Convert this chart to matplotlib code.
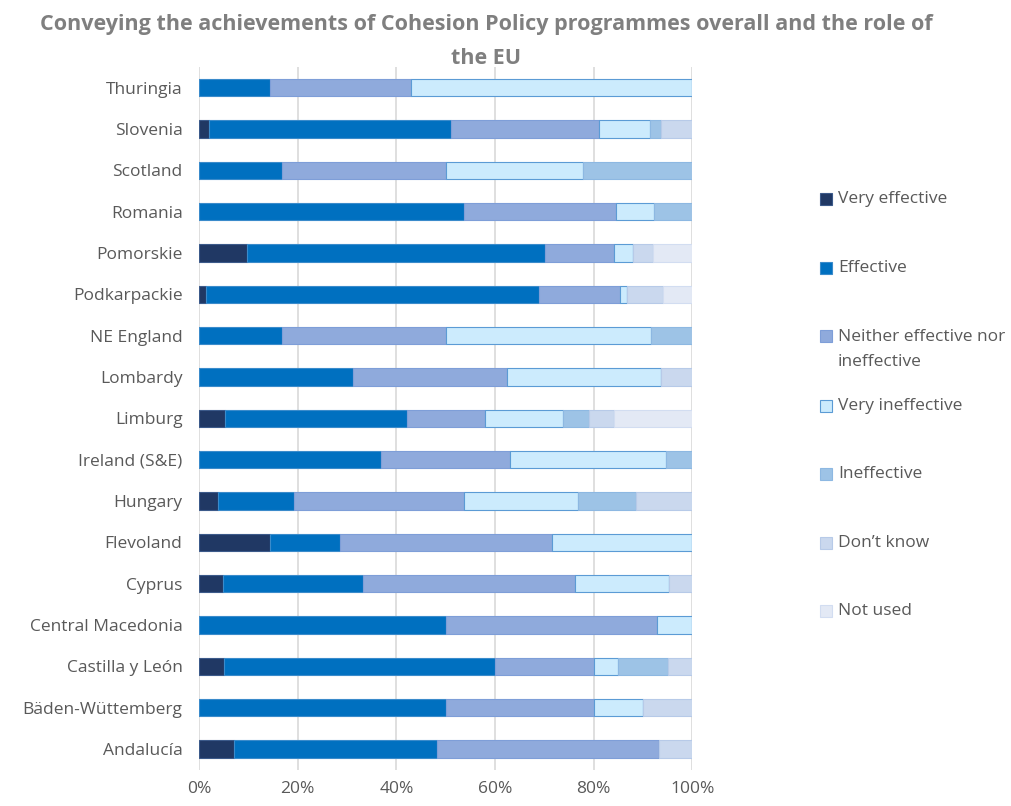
import matplotlib
matplotlib.use("Agg")
import matplotlib.pyplot as plt
from matplotlib.patches import Rectangle
import numpy as np

# regions, top to bottom as shown
regions = ["Thuringia", "Slovenia", "Scotland", "Romania", "Pomorskie", "Podkarpackie",
           "NE England", "Lombardy", "Limburg", "Ireland (S&E)", "Hungary", "Flevoland",
           "Cyprus", "Central Macedonia", "Castilla y León", "Bäden-Wüttemberg", "Andalucía"]

# shares in %, one list per answer
very_effective = [0, 1.9, 0, 0, 9.7, 1.3, 0, 0, 5.3, 0, 3.8, 14.3, 4.8, 0, 5.0, 0, 7.0]
effective = [14.3, 49.1, 16.7, 53.8, 60.4, 67.7, 16.7, 31.25, 36.8, 36.8, 15.4, 14.3, 28.5, 50.0, 55.0, 50.0, 41.2]
neither = [28.6, 30.0, 33.3, 30.8, 14.1, 16.3, 33.3, 31.25, 15.8, 26.3, 34.6, 42.9, 42.9, 42.9, 20.0, 30.0, 45.1]
very_ineffective = [57.1, 10.5, 27.8, 7.7, 3.8, 1.5, 41.7, 31.25, 15.8, 31.6, 23.1, 28.5, 19.0, 7.1, 5.0, 10.0, 0]
ineffective = [0, 2.1, 22.2, 7.7, 0, 0, 8.3, 0, 5.3, 5.3, 11.6, 0, 0, 0, 10.0, 0, 0]
dont_know = [0, 6.4, 0, 0, 4.0, 7.2, 0, 6.25, 5.2, 0, 11.5, 0, 4.8, 0, 5.0, 10.0, 6.7]
not_used = [0, 0, 0, 0, 8.0, 6.0, 0, 0, 15.8, 0, 0, 0, 0, 0, 0, 0, 0]

series_labels = ["Very effective", "Effective", "Neither effective nor\nineffective",
                 "Very ineffective", "Ineffective", "Don’t know", "Not used"]
series = [very_effective, effective, neither, very_ineffective, ineffective, dont_know, not_used]
colors = ["#203864", "#0070C0", "#8FAADC", "#CCEBFD", "#9DC3E6", "#CAD8EE", "#E3E9F5"]
edges = ["#3C5A8A", "#3A8BCB", "#7E9ED8", "#5B9BD5", "#8DB8E2", "#B7CAE8", "#D2DDF1"]

text_gray = "#595959"
plt.rcParams["font.family"] = ["Open Sans", "DejaVu Sans"]

fig = plt.figure(figsize=(10.11, 8.06), dpi=100)
ax = fig.add_axes([0.197, 0.045, 0.4877, 0.872])

y = np.arange(len(regions))
left = np.zeros(len(regions))
for vals, col, ec in zip(series, colors, edges):
    vals = np.array(vals)
    ax.barh(y, vals, left=left, height=0.42, color=col, edgecolor=ec, linewidth=0.8, zorder=3)
    left += vals

ax.set_xlim(0, 100)
ax.set_ylim(len(regions) - 0.5, -0.5)
ax.set_yticks(y)
ax.set_yticklabels(regions, fontsize=12.5, color=text_gray)
ax.set_xticks(np.arange(0, 101, 20))
ax.set_xticklabels([f"{v}%" for v in range(0, 101, 20)], fontsize=12.5, color=text_gray)
ax.tick_params(length=0, pad=8)
ax.tick_params(axis="y", pad=12)
ax.grid(axis="x", color="#D9D9D9", linewidth=1.2, zorder=0)
for s in ax.spines.values():
    s.set_visible(False)

title_kw = dict(ha="center", va="center", fontsize=15.5, fontweight="bold", color="#7F7F7F")
fig.text(0.481, 0.970, "Conveying the achievements of Cohesion Policy programmes overall and the role of", **title_kw)
fig.text(0.481, 0.927, "the EU", **title_kw)

# legend drawn by hand to follow the spacing of the original
leg_y = [199, 268, 336, 406, 474, 543, 611]
W, H = 1011, 806
for yy, lab, col, ec in zip(leg_y, series_labels, colors, edges):
    fig.patches.append(Rectangle((820 / W, 1 - (yy + 6) / H), 12 / W, 12 / H,
                                 transform=fig.transFigure, facecolor=col, edgecolor=ec,
                                 linewidth=0.8))
    if "\n" in lab:
        fig.text(838 / W, 1 - (yy - 7) / H, lab, ha="left", va="top",
                 fontsize=12.5, color=text_gray, linespacing=1.75)
    else:
        fig.text(838 / W, 1 - yy / H, lab, ha="left", va="center",
                 fontsize=12.5, color=text_gray)

fig.savefig("out.png", dpi=100)
